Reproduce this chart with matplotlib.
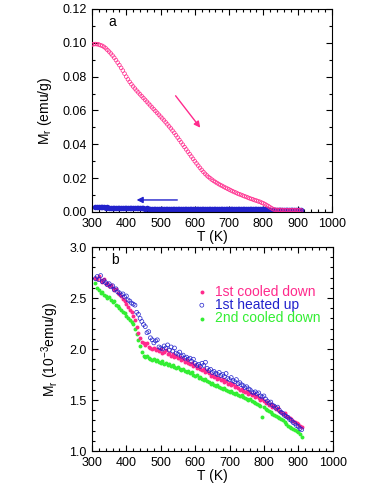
import numpy as np
import matplotlib
matplotlib.use("Agg")
import matplotlib.pyplot as plt
from matplotlib.ticker import MultipleLocator

plt.rcParams['font.family'] = ['Liberation Sans', 'DejaVu Sans']
plt.rcParams['mathtext.default'] = 'regular'

PINK = '#ff2a8c'
BLUE = '#2222cc'
GREEN = '#33ee33'

# ---- Panel a: remanent magnetization on heating (emu/g)
T_a = list(range(300, 915, 5))
Mr_heat_a = [0.0990, 0.0992, 0.0993, 0.0992, 0.0990, 0.0986, 0.0982, 0.0976, 0.0968, 0.0958,
             0.0948, 0.0937, 0.0925, 0.0912, 0.0898, 0.0883, 0.0868, 0.0852, 0.0836, 0.0818,
             0.0800, 0.0784, 0.0769, 0.0755, 0.0742, 0.0730, 0.0718, 0.0707, 0.0696, 0.0685,
             0.0674, 0.0663, 0.0652, 0.0641, 0.0630, 0.0619, 0.0608, 0.0597, 0.0586, 0.0575,
             0.0564, 0.0553, 0.0542, 0.0530, 0.0518, 0.0506, 0.0494, 0.0481, 0.0468, 0.0454,
             0.0440, 0.0426, 0.0412, 0.0398, 0.0384, 0.0370, 0.0356, 0.0342, 0.0328, 0.0314,
             0.0300, 0.0287, 0.0274, 0.0261, 0.0249, 0.0237, 0.0226, 0.0216, 0.0207, 0.0199,
             0.0191, 0.0184, 0.0177, 0.0171, 0.0165, 0.0159, 0.0154, 0.0148, 0.0143, 0.0138,
             0.0133, 0.0128, 0.0123, 0.0118, 0.0114, 0.0109, 0.0105, 0.0101, 0.0097, 0.0093,
             0.0089, 0.0085, 0.0081, 0.0077, 0.0074, 0.0070, 0.0067, 0.0063, 0.0060, 0.0055,
             0.0051, 0.0046, 0.0040, 0.0034, 0.0027, 0.0021, 0.0015, 0.0013, 0.0012, 0.0012,
             0.0012, 0.0012, 0.0011, 0.0011, 0.0011, 0.0011, 0.0011, 0.0011, 0.0011, 0.0011,
             0.0011, 0.0010, 0.0010]

# ---- Panel b: remanent magnetization (1e-3 emu/g)
T_b = list(range(310, 915, 5))
cool1 = [2.70, 2.69, 2.72, 2.68, 2.66, 2.69, 2.64, 2.65, 2.62, 2.63,
         2.60, 2.58, 2.59, 2.55, 2.54, 2.52, 2.49, 2.47, 2.44, 2.41,
         2.38, 2.36, 2.32, 2.28, 2.22, 2.16, 2.11, 2.07, 2.06, 2.04,
         2.06, 2.02, 2.01, 2.00, 2.01, 1.99, 2.00, 1.98, 2.00, 1.96,
         1.97, 1.99, 1.95, 1.96, 1.93, 1.95, 1.92, 1.93, 1.91, 1.92,
         1.89, 1.90, 1.87, 1.89, 1.86, 1.85, 1.86, 1.83, 1.84, 1.81,
         1.82, 1.80, 1.79, 1.80, 1.77, 1.78, 1.76, 1.74, 1.75, 1.73,
         1.74, 1.71, 1.72, 1.70, 1.71, 1.68, 1.69, 1.66, 1.67, 1.65,
         1.66, 1.63, 1.64, 1.62, 1.60, 1.61, 1.59, 1.58, 1.59, 1.56,
         1.57, 1.55, 1.56, 1.53, 1.54, 1.52, 1.50, 1.51, 1.49, 1.47,
         1.48, 1.45, 1.46, 1.43, 1.44, 1.41, 1.42, 1.39, 1.38, 1.36,
         1.37, 1.34, 1.33, 1.32, 1.31, 1.29, 1.28, 1.27, 1.26, 1.25,
         1.24]
heat1 = [2.69, 2.71, 2.68, 2.72, 2.66, 2.67, 2.65, 2.63, 2.64, 2.61,
         2.62, 2.58, 2.59, 2.56, 2.55, 2.53, 2.54, 2.51, 2.52, 2.48,
         2.47, 2.45, 2.44, 2.43, 2.36, 2.34, 2.30, 2.27, 2.24, 2.22,
         2.16, 2.17, 2.11, 2.09, 2.06, 2.08, 2.09, 2.02, 2.01, 2.00,
         2.03, 2.01, 2.04, 1.99, 2.02, 1.98, 2.01, 1.96, 1.95, 1.97,
         1.93, 1.94, 1.91, 1.92, 1.90, 1.91, 1.88, 1.90, 1.86, 1.84,
         1.85, 1.83, 1.86, 1.84, 1.87, 1.81, 1.79, 1.80, 1.77, 1.78,
         1.76, 1.75, 1.77, 1.74, 1.75, 1.73, 1.76, 1.71, 1.70, 1.72,
         1.69, 1.68, 1.70, 1.66, 1.67, 1.65, 1.64, 1.62, 1.63, 1.61,
         1.60, 1.58, 1.57, 1.58, 1.56, 1.57, 1.54, 1.53, 1.54, 1.51,
         1.49, 1.47, 1.48, 1.45, 1.44, 1.42, 1.43, 1.40, 1.38, 1.37,
         1.35, 1.34, 1.33, 1.31, 1.30, 1.28, 1.27, 1.25, 1.24, 1.22,
         1.21]
cool2 = [2.65, 2.60, 2.58, 2.55, 2.56, 2.53, 2.52, 2.50, 2.51, 2.48,
         2.46, 2.47, 2.43, 2.42, 2.40, 2.38, 2.36, 2.35, 2.32, 2.30,
         2.28, 2.26, 2.25, 2.20, 2.15, 2.09, 2.03, 1.97, 1.93, 1.92,
         1.93, 1.91, 1.90, 1.89, 1.90, 1.88, 1.89, 1.87, 1.86, 1.88,
         1.85, 1.86, 1.84, 1.85, 1.83, 1.84, 1.82, 1.81, 1.82, 1.80,
         1.79, 1.80, 1.78, 1.77, 1.78, 1.76, 1.77, 1.75, 1.74, 1.75,
         1.72, 1.73, 1.71, 1.70, 1.71, 1.69, 1.68, 1.66, 1.67, 1.65,
         1.64, 1.65, 1.63, 1.62, 1.61, 1.62, 1.60, 1.59, 1.58, 1.59,
         1.57, 1.56, 1.57, 1.55, 1.54, 1.55, 1.53, 1.52, 1.51, 1.50,
         1.51, 1.49, 1.48, 1.47, 1.46, 1.45, 1.44, 1.33, 1.43, 1.41,
         1.40, 1.39, 1.38, 1.36, 1.35, 1.34, 1.33, 1.32, 1.31, 1.30,
         1.28, 1.26, 1.25, 1.24, 1.23, 1.22, 1.21, 1.20, 1.19, 1.17,
         1.14]
labels_b = ['1st cooled down', '1st heated up', '2nd cooled down']

FS = 9

fig = plt.figure(figsize=(3.82, 4.94), dpi=100)
ax1 = fig.add_axes([0.2408, 0.5709, 0.628, 0.4109])
ax2 = fig.add_axes([0.2408, 0.0870, 0.630, 0.4130])

def style(ax):
    ax.tick_params(which='both', direction='in', top=True, right=True, labelsize=FS,
                   width=0.8, colors='black')
    ax.tick_params(which='major', length=4, pad=4)
    ax.tick_params(which='minor', length=2)
    ax.xaxis.set_major_locator(MultipleLocator(100))
    ax.xaxis.set_minor_locator(MultipleLocator(20))
    ax.set_xlim(300, 1000)
    for s in ax.spines.values():
        s.set_linewidth(0.8)

# Panel a
ax1.scatter(T_a, Mr_heat_a, s=7, facecolors='none', edgecolors=PINK, linewidths=0.5, zorder=3)
ax1.scatter(T_b, [v * 1e-3 for v in cool1], s=16, color=BLUE, linewidths=0, zorder=2)
ax1.set_ylim(0, 0.12)
ax1.yaxis.set_major_locator(MultipleLocator(0.02))
ax1.yaxis.set_minor_locator(MultipleLocator(0.01))
ax1.yaxis.set_major_formatter(matplotlib.ticker.FormatStrFormatter('%.2f'))
style(ax1)
ax1.set_xlabel('T (K)', fontsize=FS + 1, labelpad=0)
ax1.set_ylabel('M$_r$ (emu/g)', fontsize=FS + 1, labelpad=6)
ax1.text(0.067, 0.936, 'a', transform=ax1.transAxes, fontsize=FS + 1, va='center', ha='left')
ax1.annotate('', xy=(621, 0.0485), xytext=(539, 0.070),
             arrowprops=dict(arrowstyle='-|>', color=PINK, lw=1.0, mutation_scale=9))
ax1.annotate('', xy=(422, 0.0071), xytext=(557, 0.0071),
             arrowprops=dict(arrowstyle='-|>', color=BLUE, lw=1.0, mutation_scale=9))

# Panel b
ax2.scatter(T_b, cool1, s=8, color=PINK, linewidths=0, zorder=3, label=labels_b[0])
ax2.scatter(T_b, heat1, s=8, facecolors='none', edgecolors=BLUE, linewidths=0.5, zorder=4,
            label=labels_b[1])
ax2.scatter(T_b, cool2, s=8, color=GREEN, linewidths=0, zorder=2, label=labels_b[2])
ax2.set_ylim(1.0, 3.0)
ax2.yaxis.set_major_locator(MultipleLocator(0.5))
ax2.yaxis.set_minor_locator(MultipleLocator(0.1))
ax2.yaxis.set_major_formatter(matplotlib.ticker.FormatStrFormatter('%.1f'))
style(ax2)
ax2.set_xlabel('T (K)', fontsize=FS + 1, labelpad=0)
ax2.set_ylabel('M$_r$ (10$^{-3}$emu/g)', fontsize=FS + 1, labelpad=6)
ax2.text(0.079, 0.936, 'b', transform=ax2.transAxes, fontsize=FS + 1, va='center', ha='left')
leg = ax2.legend(loc='upper left', bbox_to_anchor=(0.39, 0.85), frameon=False,
                 fontsize=FS + 1, handletextpad=0.3, labelspacing=-0.05, borderpad=0,
                 handlelength=1.3, markerscale=1.0)
for t, c in zip(leg.get_texts(), [PINK, BLUE, GREEN]):
    t.set_color(c)

fig.savefig('out.png', dpi=100)
